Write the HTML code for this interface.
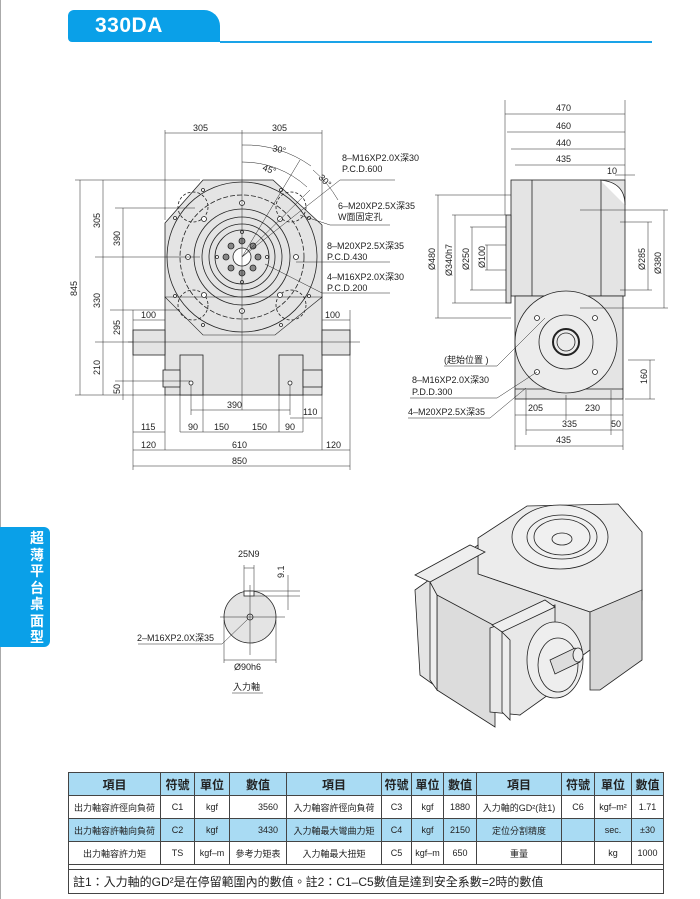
<!DOCTYPE html>
<html><head><meta charset="utf-8"><style>
body{margin:0;background:#fff;width:700px;height:899px;overflow:hidden;position:relative;font-family:"Liberation Sans","Noto Sans CJK TC",sans-serif}
svg text{font-family:"Liberation Sans","Noto Sans CJK TC",sans-serif}
table{position:absolute;left:68px;top:772px;width:596px;border-collapse:collapse;font-size:9px;color:#222}
td{border:1px solid #444;text-align:center;padding:0;height:22px}
tr.b td{background:#a9dbf3}
tr.h td{font-size:12px;height:22px;font-weight:bold}
</style></head><body>
<div style="position:absolute;left:0;top:0;width:1px;height:899px;background:#aaa"></div>
<div style="position:absolute;left:68px;top:10px;width:152px;height:32px;background:#0aa0e8;border-radius:6px 16px 0 4px"></div>
<div style="position:absolute;left:95px;top:14px;color:#fff;font:bold 21px 'Liberation Sans',sans-serif;letter-spacing:0.5px">330DA</div>
<div style="position:absolute;left:220px;top:41px;width:432px;height:1.5px;background:#1aa3e8"></div>
<div style="position:absolute;left:0;top:527px;width:50px;height:120px;background:#0aa0e8;border-radius:0 6px 6px 0"></div>
<div style="position:absolute;left:28px;top:530px;width:18px;color:#fff;font:bold 14px 'Noto Sans CJK TC',sans-serif;line-height:16.5px;text-align:center">超薄平台桌面型</div>

<svg width="700" height="899" style="position:absolute;left:0;top:0" font-size="9" fill="#222">
<g stroke="#222" stroke-width="0.8" fill="none">
<!-- FRONT VIEW -->
<polygon points="203,180 273,180 322,225 322,395 165,395 165,223" fill="#e4e4e4"/>
<polygon points="165,297 203,335 275,335 322,297" stroke-width="0.6"/>
<rect x="133" y="330" width="32" height="25" fill="#e4e4e4"/>
<rect x="322" y="330" width="28" height="25" fill="#e4e4e4"/>
<rect x="180" y="355" width="23" height="40" fill="#e4e4e4"/>
<rect x="279" y="355" width="24" height="40" fill="#e4e4e4"/>
<rect x="163" y="370" width="17" height="17" fill="#e4e4e4"/>
<rect x="303" y="370" width="19" height="17" fill="#e4e4e4"/>
<circle cx="242" cy="257" r="75"/>
<circle cx="242" cy="257" r="62" stroke-dasharray="5,2"/>
<circle cx="242" cy="257" r="48"/>
<circle cx="242" cy="257" r="40"/>
<circle cx="242" cy="257" r="33"/>
<circle cx="242" cy="257" r="27"/>
<circle cx="242" cy="257" r="9" fill="#fff"/>
<circle cx="193" cy="207" r="15" stroke-dasharray="3,2"/>
<circle cx="291" cy="207" r="15" stroke-dasharray="3,2"/>
<circle cx="193" cy="305" r="15" stroke-dasharray="3,2"/>
<circle cx="291" cy="305" r="15" stroke-dasharray="3,2"/>
<g fill="#fff">
<circle cx="242" cy="203" r="2.5"/><circle cx="242" cy="311" r="2.5"/><circle cx="188" cy="257" r="2.5"/><circle cx="296" cy="257" r="2.5"/>
<circle cx="204" cy="219" r="2.5"/><circle cx="280" cy="219" r="2.5"/><circle cx="204" cy="295" r="2.5"/><circle cx="280" cy="295" r="2.5"/>
<circle cx="242" cy="232" r="1.5"/><circle cx="242" cy="282" r="1.5"/><circle cx="217" cy="257" r="1.5"/><circle cx="267" cy="257" r="1.5"/>
<circle cx="203" cy="190" r="1.5"/><circle cx="281" cy="190" r="1.5"/><circle cx="175" cy="218" r="1.5"/><circle cx="309" cy="218" r="1.5"/>
<circle cx="175" cy="296" r="1.5"/><circle cx="309" cy="296" r="1.5"/><circle cx="203" cy="325" r="1.5"/><circle cx="281" cy="325" r="1.5"/>
<circle cx="191" cy="383" r="2"/><circle cx="290" cy="383" r="2"/>
</g>
<g fill="#888"><circle cx="242" cy="241" r="3"/><circle cx="242" cy="273" r="3"/><circle cx="226" cy="257" r="3"/><circle cx="258" cy="257" r="3"/><circle cx="231" cy="246" r="3"/><circle cx="253" cy="246" r="3"/><circle cx="231" cy="268" r="3"/><circle cx="253" cy="268" r="3"/></g>
<g stroke-width="0.5">
<line x1="242" y1="130" x2="242" y2="410"/><line x1="128" y1="342" x2="360" y2="342"/>
<line x1="165" y1="130" x2="165" y2="220"/><line x1="322" y1="130" x2="322" y2="220"/>
<line x1="165" y1="133" x2="322" y2="133"/>
<path d="M242,145 A112,112 0 0 1 311,166"/><path d="M242,162 A95,95 0 0 1 307,187"/><path d="M313,170 A112,112 0 0 1 338,200"/>
<line x1="242" y1="257" x2="300" y2="160"/><line x1="242" y1="257" x2="310" y2="190"/><line x1="242" y1="257" x2="340" y2="180"/>
<line x1="340" y1="180" x2="395" y2="180"/><line x1="300" y1="215" x2="330" y2="225"/><line x1="330" y1="225" x2="390" y2="225"/>
<line x1="296" y1="262" x2="390" y2="262"/><line x1="265" y1="264" x2="322" y2="293"/><line x1="322" y1="293" x2="390" y2="293"/>
<line x1="75" y1="180" x2="200" y2="180"/><line x1="95" y1="257" x2="200" y2="257"/><line x1="115" y1="208" x2="195" y2="208"/>
<line x1="110" y1="310" x2="180" y2="310"/><line x1="95" y1="342" x2="133" y2="342"/><line x1="115" y1="381" x2="190" y2="381"/><line x1="75" y1="395" x2="165" y2="395"/>
<line x1="80" y1="180" x2="80" y2="395"/><line x1="103" y1="180" x2="103" y2="395"/><line x1="123" y1="208" x2="123" y2="400"/>
<line x1="133" y1="310" x2="133" y2="470"/><line x1="165" y1="395" x2="165" y2="450"/><line x1="322" y1="395" x2="322" y2="450"/><line x1="350" y1="310" x2="350" y2="470"/>
<line x1="180" y1="395" x2="180" y2="432"/><line x1="203" y1="395" x2="203" y2="432"/><line x1="279" y1="395" x2="279" y2="432"/><line x1="303" y1="395" x2="303" y2="432"/>
<line x1="191" y1="385" x2="191" y2="415"/><line x1="290" y1="385" x2="290" y2="415"/>
<line x1="191" y1="410" x2="290" y2="410"/><line x1="290" y1="418" x2="322" y2="418"/>
<line x1="133" y1="432" x2="165" y2="432"/><line x1="180" y1="432" x2="303" y2="432"/>
<line x1="133" y1="450" x2="350" y2="450"/><line x1="133" y1="466" x2="350" y2="466"/>
<line x1="133" y1="320" x2="165" y2="320"/><line x1="322" y1="320" x2="350" y2="320"/>
</g>
<!-- SIDE VIEW -->
<rect x="511" y="180" width="114" height="116" fill="#e4e4e4"/>
<path d="M600,180 Q625,180 625,205" fill="#fff" stroke="none"/>
<path d="M600,180 Q625,182 625,205"/>
<line x1="532" y1="180" x2="532" y2="296"/><line x1="601" y1="180" x2="601" y2="296"/>
<rect x="506" y="215" width="5" height="88" fill="#ddd"/>
<rect x="515" y="296" width="108" height="103" fill="#e4e4e4"/>
<line x1="515" y1="389" x2="623" y2="389"/>
<circle cx="566" cy="342" r="51" fill="#ececec"/>
<circle cx="566" cy="342" r="27"/><circle cx="566" cy="342" r="13" stroke-width="2"/><circle cx="566" cy="342" r="9"/>
<g fill="#fff"><circle cx="537" cy="318" r="2.5"/><circle cx="595" cy="318" r="2.5"/><circle cx="537" cy="372" r="2.5"/><circle cx="595" cy="372" r="2.5"/></g>
<g stroke-width="0.5">
<line x1="505" y1="100" x2="505" y2="215"/><line x1="625" y1="100" x2="625" y2="180"/>
<line x1="505" y1="114" x2="625" y2="114"/><line x1="507" y1="132" x2="625" y2="132"/><line x1="511" y1="149" x2="625" y2="149"/><line x1="515" y1="165" x2="625" y2="165"/>
<line x1="435" y1="195" x2="511" y2="195"/><line x1="435" y1="318" x2="511" y2="318"/><line x1="452" y1="215" x2="506" y2="215"/><line x1="452" y1="303" x2="506" y2="303"/>
<line x1="470" y1="227" x2="506" y2="227"/><line x1="470" y1="290" x2="506" y2="290"/><line x1="485" y1="245" x2="506" y2="245"/><line x1="485" y1="270" x2="506" y2="270"/>
<line x1="438" y1="195" x2="438" y2="318"/><line x1="455" y1="215" x2="455" y2="303"/><line x1="472" y1="227" x2="472" y2="290"/><line x1="487" y1="245" x2="487" y2="270"/>
<line x1="580" y1="210" x2="668" y2="210"/><line x1="580" y1="308" x2="668" y2="308"/><line x1="620" y1="222" x2="652" y2="222"/><line x1="620" y1="290" x2="652" y2="290"/>
<line x1="648" y1="222" x2="648" y2="290"/><line x1="664" y1="210" x2="664" y2="308"/>
<line x1="628" y1="360" x2="655" y2="360"/><line x1="625" y1="399" x2="655" y2="399"/><line x1="650" y1="360" x2="650" y2="399"/>
<line x1="515" y1="399" x2="515" y2="450"/><line x1="623" y1="399" x2="623" y2="450"/><line x1="526" y1="390" x2="526" y2="435"/><line x1="611" y1="390" x2="611" y2="435"/><line x1="566" y1="395" x2="566" y2="420"/>
<line x1="515" y1="415" x2="623" y2="415"/><line x1="526" y1="430" x2="623" y2="430"/><line x1="515" y1="446" x2="623" y2="446"/>
<line x1="615" y1="175" x2="635" y2="175"/>
<line x1="444" y1="366" x2="497" y2="366"/><line x1="497" y1="366" x2="545" y2="318"/>
<line x1="410" y1="398" x2="497" y2="398"/><line x1="497" y1="398" x2="537" y2="372"/>
<line x1="408" y1="418" x2="490" y2="418"/><line x1="490" y1="418" x2="526" y2="388"/>
</g>
<!-- SHAFT -->
<circle cx="250" cy="617" r="26" fill="#e4e4e4"/>
<rect x="244" y="591" width="10" height="5" fill="#fff"/>
<circle cx="250" cy="617" r="3"/>
<g stroke-width="0.5">
<line x1="220" y1="617" x2="285" y2="617"/><line x1="250" y1="585" x2="250" y2="655"/>
<line x1="244" y1="565" x2="244" y2="591"/><line x1="254" y1="565" x2="254" y2="591"/><line x1="244" y1="568" x2="254" y2="568"/>
<line x1="254" y1="591" x2="300" y2="591"/><line x1="254" y1="596" x2="300" y2="596"/><line x1="288" y1="575" x2="288" y2="610"/>
<line x1="224" y1="620" x2="224" y2="663"/><line x1="276" y1="620" x2="276" y2="663"/><line x1="224" y1="660" x2="276" y2="660"/>
<line x1="138" y1="644" x2="222" y2="644"/><line x1="222" y1="644" x2="248" y2="619"/>
<line x1="232" y1="693" x2="263" y2="693"/>
</g>
<!-- 3D -->
<polygon points="478,538 527,506 618,504 642,532 642,600 590,612 478,574" fill="#ececec"/>
<polygon points="415,590 478,545 478,574 590,612 590,650 535,690 520,715 455,700 420,675" fill="#e4e4e4"/>
<polygon points="590,612 642,590 642,660 600,690 590,690" fill="#d8d8d8"/>
<polygon points="437,595 495,626 495,727 437,690" fill="#dcdcdc"/>
<polygon points="415,575 470,545 485,552 430,582" fill="#eee"/>
<polygon points="430,582 437,595 437,690 430,680" fill="#eee"/>
<polygon points="490,628 555,605 555,690 520,715 490,712" fill="#e8e8e8"/>
<polygon points="492,625 545,600 555,607 502,632" fill="#eee"/>
<polygon points="502,632 510,640 510,720 502,712" fill="#eee"/>
<ellipse cx="560" cy="537" rx="48" ry="32" fill="#f0f0f0"/>
<ellipse cx="562" cy="537" rx="35" ry="22"/>
<ellipse cx="562" cy="537" rx="28" ry="18"/>
<ellipse cx="562" cy="539" rx="10" ry="6"/>
<ellipse cx="555" cy="660" rx="28" ry="38" fill="#eee"/>
<ellipse cx="558" cy="665" rx="20" ry="27"/>
<polygon points="550,660 575,648 580,662 555,674" fill="#ddd"/>
<ellipse cx="578" cy="655" rx="5" ry="7" fill="#eee"/>
</g>
<!-- FRONT TEXT -->
<text x="193" y="131">305</text><text x="272" y="131">305</text>
<text x="272" y="151" transform="rotate(12 272 151)">30°</text>
<text x="262" y="170" transform="rotate(20 262 170)">45°</text>
<text x="318" y="178" transform="rotate(45 318 178)">30°</text>
<text x="342" y="161">8–M16XP2.0X深30</text><text x="342" y="172">P.C.D.600</text>
<text x="338" y="209">6–M20XP2.5X深35</text><text x="338" y="220">W面固定孔</text>
<text x="327" y="249">8–M20XP2.5X深35</text><text x="327" y="260">P.C.D.430</text>
<text x="327" y="280">4–M16XP2.0X深30</text><text x="327" y="291">P.C.D.200</text>
<g transform="rotate(-90)">
<text x="-296" y="77">845</text><text x="-228" y="100">305</text><text x="-308" y="100">330</text>
<text x="-246" y="120">390</text><text x="-335" y="120">295</text><text x="-375" y="100">210</text><text x="-394" y="120">50</text>
</g>
<text x="141" y="318">100</text><text x="325" y="318">100</text>
<text x="227" y="408">390</text><text x="303" y="415">110</text>
<text x="141" y="430">115</text><text x="188" y="430">90</text><text x="214" y="430">150</text><text x="252" y="430">150</text><text x="285" y="430">90</text>
<text x="141" y="448">120</text><text x="232" y="448">610</text><text x="326" y="448">120</text>
<text x="232" y="464">850</text>
<!-- SIDE TEXT -->
<text x="556" y="111">470</text><text x="556" y="129">460</text><text x="556" y="146">440</text><text x="556" y="162">435</text>
<text x="607" y="174">10</text>
<g transform="rotate(-90)">
<text x="-270" y="435">Ø480</text><text x="-276" y="452">Ø340h7</text><text x="-270" y="469">Ø250</text><text x="-268" y="485">Ø100</text>
<text x="-270" y="645">Ø285</text><text x="-274" y="661">Ø380</text><text x="-384" y="647">160</text>
</g>
<text x="444" y="363">(起始位置 )</text>
<text x="412" y="383">8–M16XP2.0X深30</text><text x="412" y="395">P.D.D.300</text>
<text x="408" y="415">4–M20XP2.5X深35</text>
<text x="528" y="411">205</text><text x="585" y="411">230</text><text x="562" y="427">335</text><text x="611" y="427">50</text><text x="556" y="443">435</text>
<!-- SHAFT TEXT -->
<text x="238" y="557">25N9</text>
<text x="0" y="0" transform="translate(284,578) rotate(-90)">9.1</text>
<text x="137" y="641">2–M16XP2.0X深35</text>
<text x="234" y="670">Ø90h6</text>
<text x="233" y="690">入力軸</text>
</svg>

<table>
<tr class="b h"><td style="width:91px">項目</td><td style="width:33px">符號</td><td style="width:34px">單位</td><td style="width:56px">數值</td><td style="width:94px">項目</td><td style="width:29px">符號</td><td style="width:31px">單位</td><td style="width:32px">數值</td><td style="width:84px">項目</td><td style="width:32px">符號</td><td style="width:36px">單位</td><td>數值</td></tr>
<tr><td>出力軸容許徑向負荷</td><td>C1</td><td>kgf</td><td style="text-align:right;padding-right:8px">3560</td><td>入力軸容許徑向負荷</td><td>C3</td><td>kgf</td><td>1880</td><td>入力軸的GD²(註1)</td><td>C6</td><td>kgf–m²</td><td>1.71</td></tr>
<tr class="b"><td>出力軸容許軸向負荷</td><td>C2</td><td>kgf</td><td style="text-align:right;padding-right:8px">3430</td><td>入力軸最大彎曲力矩</td><td>C4</td><td>kgf</td><td>2150</td><td>定位分割精度</td><td></td><td>sec.</td><td>±30</td></tr>
<tr><td>出力軸容許力矩</td><td>TS</td><td>kgf–m</td><td>參考力矩表</td><td>入力軸最大扭矩</td><td>C5</td><td>kgf–m</td><td>650</td><td>重量</td><td></td><td>kg</td><td>1000</td></tr>
<tr><td colspan="12" style="height:4px"></td></tr>
<tr><td colspan="12" style="text-align:left;font-size:12px;padding-left:4px;height:23px">註1：入力軸的GD²是在停留範圍內的數值。註2：C1–C5數值是達到安全系數=2時的數值</td></tr>
</table>
</body></html>
